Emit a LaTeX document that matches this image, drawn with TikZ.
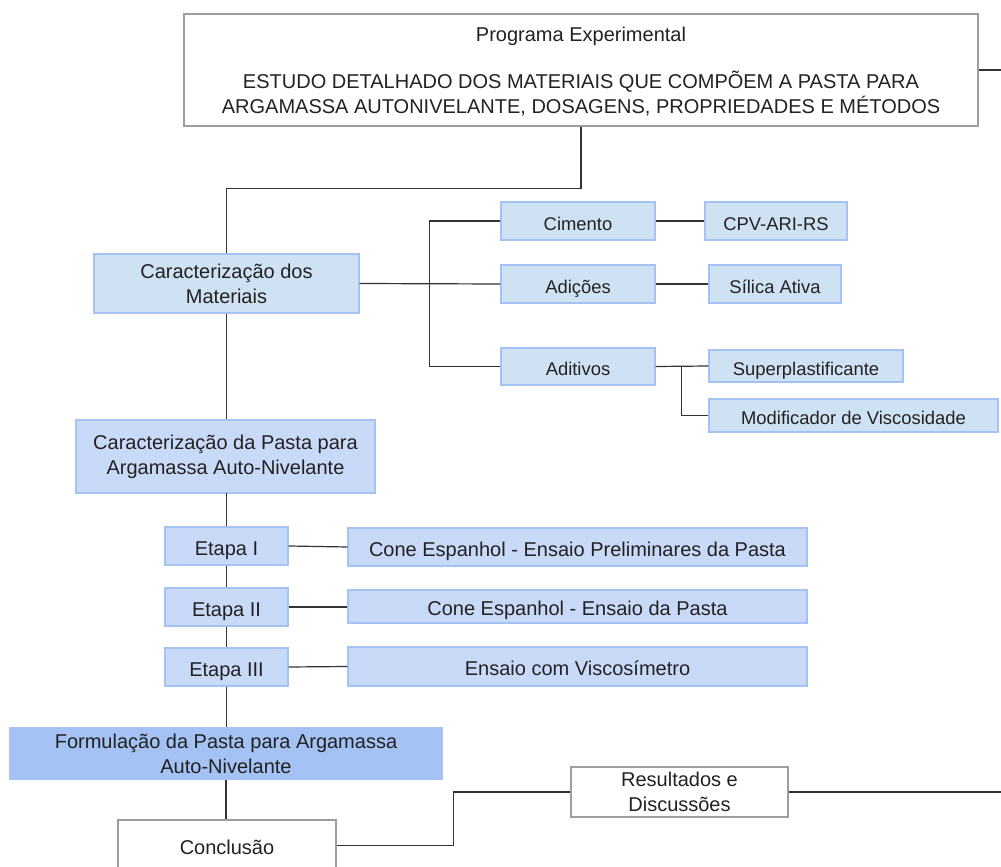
\documentclass[tikz,border=0pt]{standalone}
\usepackage{fontspec}
\setmainfont{Liberation Sans}
\definecolor{lb}{HTML}{CFE2F3}
\definecolor{cb}{HTML}{C9DAF8}
\definecolor{db}{HTML}{A4C2F4}
\definecolor{bd}{HTML}{A4C2F4}
\definecolor{ln}{HTML}{333333}
\definecolor{gb}{HTML}{9E9E9E}
\definecolor{tx}{HTML}{222222}
\newcommand\bx[7]{\node[#6, inner sep=0pt, align=center, minimum width={(#4-#2)*0.75pt}, minimum height={(#5-#3)*0.75pt}] (#1) at ({(#2+#4)/2},{(#3+#5)/2}) {#7};}
\begin{document}
\begin{tikzpicture}[x=0.75pt,y=-0.75pt,
  bigf/.style={font=\fontsize{15}{18.75}\selectfont, text=tx},
  smallf/.style={font=\fontsize{13.8}{17}\selectfont, text=tx},
  one/.style={text height=15pt, text depth=1.5pt},
  lbox/.style={draw=bd, fill=lb, line width=0.9pt, bigf},
  lboxs/.style={draw=bd, fill=lb, line width=0.9pt, smallf, one},
  cbox/.style={draw=bd, fill=cb, line width=0.9pt, bigf},
  dbox/.style={draw=db, fill=db, line width=0.9pt, bigf},
  wbox/.style={draw=gb, fill=white, line width=0.9pt, bigf},
  conn/.style={draw=ln, line width=0.9pt}]
\useasboundingbox (0,0) rectangle (1001,867);
\fill[white] (0,0) rectangle (1001,867);
% boxes
\bx{top}{184}{14}{978}{126}{wbox}{\rule{0pt}{13pt}Programa Experimental\\[16pt]ESTUDO DETALHADO DOS MATERIAIS QUE COMPÕEM A PASTA PARA\\ARGAMASSA AUTONIVELANTE, DOSAGENS, PROPRIEDADES E MÉTODOS}
\bx{mat}{94}{254}{359}{313}{lbox}{Caracterização dos\\Materiais}
\bx{cim}{501}{202}{655}{240}{lboxs}{Cimento}
\bx{add}{501}{265}{655}{303}{lboxs}{Adições}
\bx{adt}{501}{348}{655}{385}{lboxs}{Aditivos}
\bx{cpv}{705}{202}{847}{240}{lboxs}{CPV-ARI-RS}
\bx{sil}{709}{265}{841}{303}{lboxs}{Sílica Ativa}
\bx{sup}{709}{350}{903}{382}{lboxs}{Superplastificante}
\bx{mod}{709}{399}{998}{432}{lboxs}{Modificador de Viscosidade}
\bx{pasta}{76}{420}{375}{493}{cbox}{Caracterização da Pasta para\\Argamassa Auto-Nivelante}
\bx{e1}{165}{527}{288}{565}{cbox,one}{Etapa I}
\bx{e2}{165}{588}{288}{626}{cbox,one}{Etapa II}
\bx{e3}{165}{648}{288}{686}{cbox,one}{Etapa III}
\bx{c1}{348}{528}{807}{566}{cbox,one}{Cone Espanhol - Ensaio Preliminares da Pasta}
\bx{c2}{348}{590}{807}{623}{cbox,one}{Cone Espanhol - Ensaio da Pasta}
\bx{c3}{348}{647}{807}{686}{cbox,one}{Ensaio com Viscosímetro}
\bx{form}{10}{728}{442}{779}{dbox}{Formulação da Pasta para Argamassa\\Auto-Nivelante}
\bx{conc}{118}{820}{336}{871}{wbox,one}{Conclusão}
\bx{res}{571}{767}{788}{817}{wbox}{Resultados e\\Discussões}
\coordinate (tr) at (1001,70);
\coordinate (rr) at (1001,792);
% connectors
\draw[conn] (top.east) -- (tr);
\draw[conn] (top.south) -- ++(0,62) -| (mat.north);
\draw[conn] (mat.east) -- (add.west);
\draw[conn] (cim.west) -- ++(-71,0) |- (adt.west);
\draw[conn] (cim.east) -- (cpv.west);
\draw[conn] (add.east) -- (sil.west);
\draw[conn] (adt.east) -- (sup.west);
\draw[conn] (adt.east) -- ++(26,0) |- (mod.west);
\draw[conn] (mat.south) -- (mat.south |- pasta.north);
\draw[conn] (pasta.south) -- (pasta.south -| e1.north) -- (e1.north);
\draw[conn] (e1.south) -- (e2.north);
\draw[conn] (e2.south) -- (e3.north);
\draw[conn] (e3.south) -- (e3.south |- form.north);
\draw[conn] (form.south) -- (form.south |- conc.north);
\draw[conn] (e1.east) -- (c1.west);
\draw[conn] (e2.east) -- (e2.east -| c2.west);
\draw[conn] (e3.east) -- (c3.west);
\draw[conn] (conc.east) -- ++(117,0) |- (res.west);
\draw[conn] (res.east) -- (rr);
\end{tikzpicture}
\end{document}
